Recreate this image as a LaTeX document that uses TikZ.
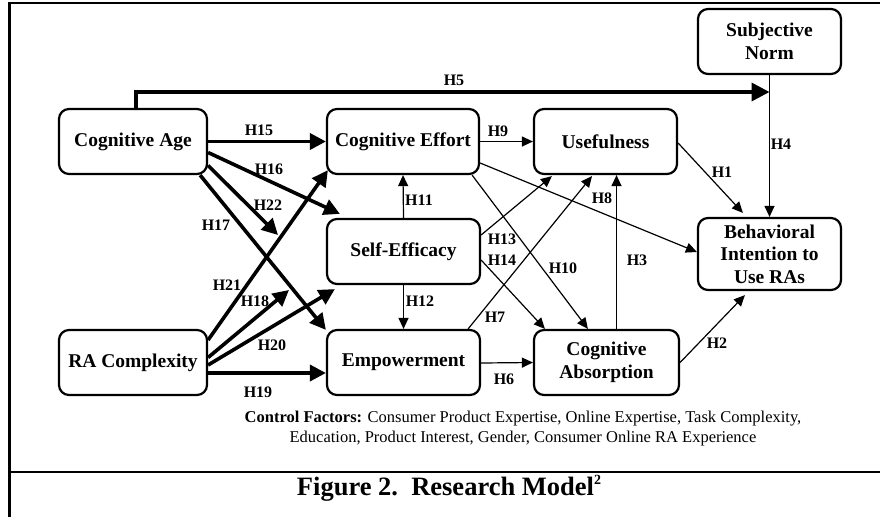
\documentclass[tikz,border=0pt]{standalone}
\usepackage{fontspec}
\setmainfont{Liberation Serif}
\usetikzlibrary{arrows.meta,calc}
\begin{document}
\begin{tikzpicture}[x=1pt,y=-1pt,
  box/.style={draw,line width=2.2pt,rounded corners=10pt,inner sep=0pt,align=center,
    font=\fontsize{19.5}{22.5}\selectfont\bfseries},
  bigarrow/.style={line width=3.6pt,-{Triangle[length=16pt,width=16pt]}},
  smallarrow/.style={line width=1.2pt,-{Triangle[length=11pt,width=10pt]}},
  lab/.style={font=\fontsize{16}{18}\selectfont\bfseries,inner sep=0pt},
  frame/.style={line width=2.5pt}]
\useasboundingbox (0,0) rectangle (880,517);
% frame
\draw[frame] (9.5,517) -- (9.5,3) -- (880,3);
\draw[frame] (9.5,472) -- (880,472);
% nodes
\node[box,minimum width=148pt,minimum height=65pt] (ca) at (133,141.5) {Cognitive Age};
\node[box,minimum width=152pt,minimum height=65pt] (ce) at (403,141.5) {Cognitive Effort};
\node[box,minimum width=143pt,minimum height=65pt] (use) at (605.5,141.5) {Usefulness};
\node[box,minimum width=143pt,minimum height=65pt] (sn) at (769.5,41.5) {Subjective\\Norm};
\node[box,minimum width=143pt,minimum height=72pt] (bi) at (769.5,254) {Behavioral\\Intention to\\Use RAs};
\node[box,minimum width=153pt,minimum height=65pt] (se) at (403.5,251.5) {Self-Efficacy};
\node[box,minimum width=153pt,minimum height=65pt] (em) at (403.5,362.5) {Empowerment};
\node[box,minimum width=145pt,minimum height=65pt] (cab) at (606.5,362.5) {Cognitive\\Absorption};
\node[box,minimum width=148pt,minimum height=65pt] (rac) at (133,362.5) {RA Complexity};
% free ends
\coordinate (h5end) at (769.5,92);
\coordinate (h22end) at (278,235);
\coordinate (h18end) at (289,290);
% thick arrows
\draw[bigarrow,-{Triangle[length=18pt,width=18pt]}] ($(ca.north)+(3,0)$) |- (h5end);
\draw[bigarrow] (ca.east) -- (ce.west);
\draw[bigarrow] ($(ca.east)+(0,11)$) -- ($(se.north west)+(14,-4)$);
\draw[bigarrow] ($(ca.east)+(0,24)$) -- (h22end);
\draw[bigarrow] ($(ca.south east)+(-8,0)$) -- ($(em.north west)+(0,1)$);
\draw[bigarrow] ($(rac.east)+(0,-22.5)$) -- ($(ce.south west)+(2,-5)$);
\draw[bigarrow] ($(rac.east)+(0,-5)$) -- (h18end);
\draw[bigarrow] ($(rac.east)+(0,2.5)$) -- ($(se.south west)+(9,4)$);
\draw[bigarrow] ($(rac.east)+(0,10.5)$) -- ($(em.west)+(0,10.5)$);
% thin arrows
\draw[smallarrow] (sn.south) -- (bi.north);
\draw[smallarrow] (ce.east) -- (use.west);
\draw[smallarrow] (se.north) -- (ce.south);
\draw[smallarrow] (se.south) -- (em.north);
\draw[smallarrow] ($(ce.east)+(0,21.5)$) -- ($(bi.west)+(0,-2)$);
\draw[smallarrow] ($(ce.south east)+(-8,0)$) -- ($(cab.north west)+(55,0)$);
\draw[smallarrow] ($(se.east)+(0,-16.5)$) -- ($(use.south west)+(19,1)$);
\draw[smallarrow] ($(se.east)+(0,8.5)$) -- ($(cab.north west)+(12,0)$);
\draw[smallarrow] ($(em.north east)+(-13,0)$) -- ($(use.south)+(-13.5,1)$);
\draw[smallarrow] ($(cab.north)+(10,0)$) -- ($(use.south)+(11,0)$);
\draw[smallarrow] ($(em.east)+(0,0.5)$) -- (cab.west);
\draw[smallarrow] ($(use.east)+(0,1.5)$) -- ($(bi.north west)+(46,-4)$);
\draw[smallarrow] (cab.east) -- ($(bi.south west)+(48,4)$);
% labels
\node[lab] (l5) at (454,80) {H5};
\node[lab] (l15) at (259,130) {H15};
\node[lab] (l16) at (269,169) {H16};
\node[lab] (l22) at (268,205) {H22};
\node[lab] (l17) at (216,225) {H17};
\node[lab] (l21) at (227,285) {H21};
\node[lab] (l18) at (255,301) {H18};
\node[lab] (l20) at (272,345) {H20};
\node[lab] (l19) at (258,392) {H19};
\node[lab] (l9) at (498,131) {H9};
\node[lab] (l11) at (419,200) {H11};
\node[lab] (l12) at (420,301) {H12};
\node[lab] (l8) at (602,198) {H8};
\node[lab] (l10) at (563,268) {H10};
\node[lab] (l13) at (502,239) {H13};
\node[lab] (l14) at (502,260) {H14};
\node[lab] (l7) at (495,317) {H7};
\node[lab] (l3) at (637,260) {H3};
\node[lab] (l6) at (504,379) {H6};
\node[lab] (l1) at (722,172) {H1};
\node[lab] (l2) at (717,343) {H2};
\node[lab] (l4) at (781,144) {H4};
% control factors
\node[font=\fontsize{16.5}{20}\selectfont,align=center,inner sep=0pt] (ctrl) at (523,429)
  {\textbf{Control Factors:} Consumer Product Expertise, Online Expertise, Task Complexity,\\
   Education, Product Interest, Gender, Consumer Online RA Experience};
% caption
\node[font=\fontsize{26.5}{30}\selectfont\bfseries,inner sep=0pt] (cap) at (449,488)
  {Figure 2.\ \ Research Model\raisebox{0.42em}{\fontsize{14}{14}\selectfont 2}};
\end{tikzpicture}
\end{document}
